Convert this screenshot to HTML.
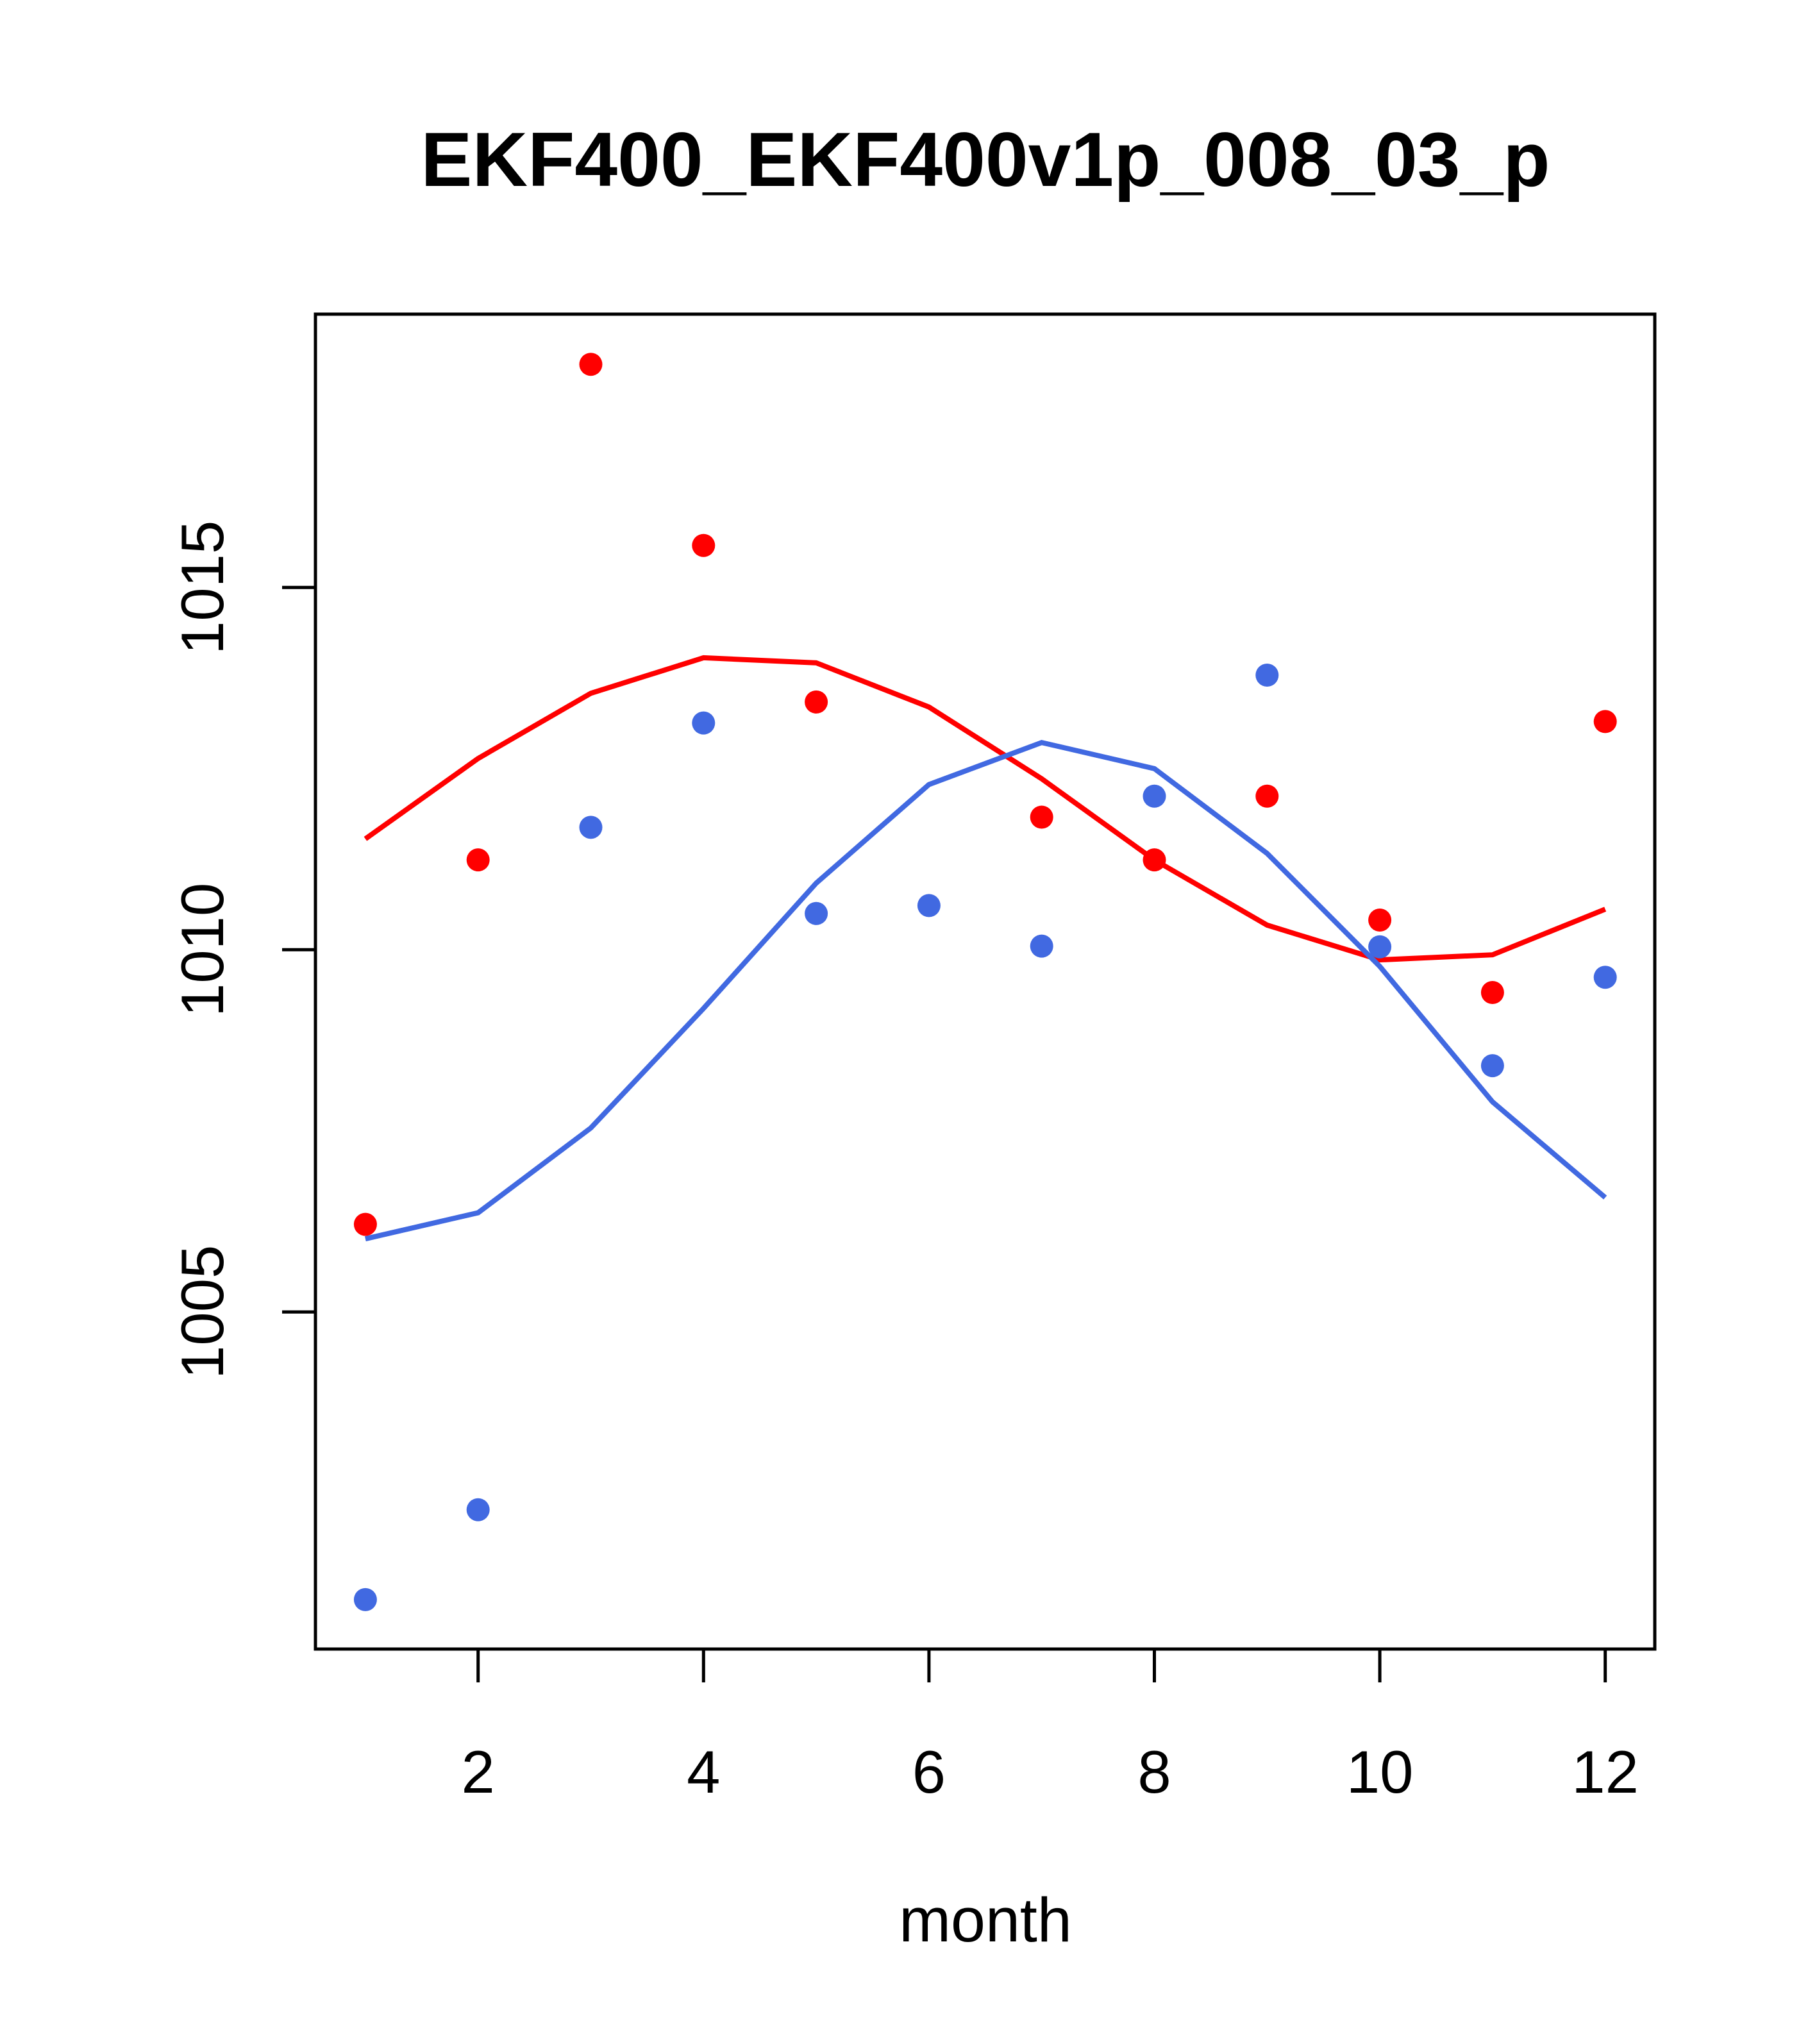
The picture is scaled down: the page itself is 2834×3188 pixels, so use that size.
<!DOCTYPE html>
<html><head><meta charset="utf-8"><style>html,body{margin:0;padding:0;background:#fff}svg{display:block}</style></head>
<body>
<svg id="chart" width="2834" height="3188" xmlns="http://www.w3.org/2000/svg" font-family="Liberation Sans, sans-serif">
<text x="1537" y="290" font-size="120" font-weight="bold" text-anchor="middle">EKF400_EKF400v1p_008_03_p</text>
<rect x="492" y="490" width="2089" height="2082" fill="none" stroke="#000" stroke-width="5"/>
<g id="axes"></g>
<g id="marks"></g>
<text x="1537" y="3028" font-size="97" text-anchor="middle">month</text>
</svg>
<script>
const months=[1,2,3,4,5,6,7,8,9,10,11,12];
const redPoints=[1006.21,1011.24,1018.08,1015.58,1013.42,null,1011.83,1011.24,1012.12,1010.41,1009.41,1013.15];
const bluePoints=[1001.03,1002.27,1011.69,1013.13,1010.50,1010.61,1010.05,1012.12,1013.79,1010.04,1008.40,1009.62];
const redLine=[1011.53,1012.64,1013.54,1014.03,1013.96,1013.35,1012.36,1011.24,1010.34,1009.86,1009.93,1010.56];
const blueLine=[1006.01,1006.37,1007.54,1009.19,1010.92,1012.28,1012.86,1012.50,1011.33,1009.77,1007.90,1006.58];
const xTicks=[2,4,6,8,10,12];
const yTicks=[1005,1010,1015];
const NS='http://www.w3.org/2000/svg';
function X(m){return 745.7+(m-2)*175.8;}
function Y(v){return 1481.3-(v-1010)*113;}
function mk(t,a,p){const e=document.createElementNS(NS,t);for(const k in a)e.setAttribute(k,a[k]);p.appendChild(e);return e;}
const axes=document.getElementById('axes'),marks=document.getElementById('marks');
mk('line',{x1:X(2),x2:X(12),y1:2572,y2:2572,stroke:'#000','stroke-width':5},axes);
xTicks.forEach(t=>{
 const l=mk('line',{x1:X(t),x2:X(t),y1:2572,y2:2624,stroke:'#000','stroke-width':5},axes);
 
 
 const tx=mk('text',{x:X(t),y:2796,'font-size':94,'text-anchor':'middle'},axes);tx.textContent=t;
 
 
});
mk('line',{x1:492,x2:492,y1:Y(1005),y2:Y(1015),stroke:'#000','stroke-width':5},axes);
yTicks.forEach(t=>{
 const l=mk('line',{x1:440,x2:492,y1:Y(t),y2:Y(t),stroke:'#000','stroke-width':5},axes);
 
 
 const tx=mk('text',{x:348,y:Y(t),'font-size':94,'text-anchor':'middle',transform:`rotate(-90 348 ${Y(t)})`},axes);tx.textContent=t;
 
 
});
function line(vals,col,name){
 const p=mk('polyline',{points:vals.map((v,i)=>X(months[i])+','+Y(v)).join(' '),fill:'none',stroke:col,'stroke-width':8},marks);
 
 
}
function pts(vals,col,name){
 vals.forEach((v,i)=>{if(v==null)return;
  const c=mk('circle',{cx:X(months[i]),cy:Y(v),r:18,fill:col},marks);
  
  
 });
}
line(redLine,'#ff0000','red-line');
line(blueLine,'#4169e1','blue-line');
pts(redPoints,'#ff0000','red-point');
pts(bluePoints,'#4169e1','blue-point');
</script>
</body></html>
